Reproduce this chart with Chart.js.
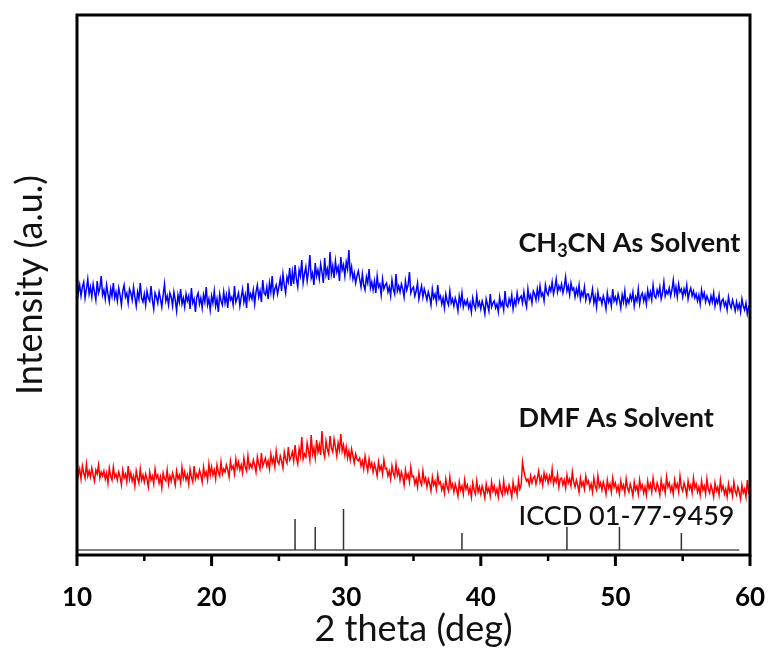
<!DOCTYPE html>
<html>
<head>
<meta charset="utf-8">
<script src="https://cdn.jsdelivr.net/npm/chart.js@4.4.1/dist/chart.umd.min.js"></script>
<style>
html,body{margin:0;padding:0;background:#fff;}
#wrap{width:772px;height:651px;position:relative;}
</style>
</head>
<body>
<div id="wrap"><canvas id="c" width="772" height="651"></canvas></div>
<script>
// 2-theta sampling grid (deg)
const thetaStart = 10;
const thetaStep = 0.1;

// CH3CN As Solvent (blue), one row per degree (10.0 ... 60.0)
const ch3cnIntensity = [
283,262,270,259,268,273,257,266,276,261,
268,258,271,263,255,274,262,267,279,260,
265,256,270,261,253,266,259,272,257,263,
254,267,260,250,264,270,258,262,252,266,
262,255,268,258,249,263,256,272,257,253,
261,250,264,257,254,269,255,246,262,258,
252,263,256,248,260,271,254,259,250,262,
258,249,263,255,244,260,253,266,251,257,
248,261,254,259,246,267,252,256,243,258,
262,251,257,247,260,253,268,250,256,245,
259,252,264,249,256,243,261,254,250,263,
252,260,247,264,255,258,250,269,253,257,
262,249,258,266,253,260,247,272,256,261,
256,265,251,263,270,258,264,253,275,262,
260,268,256,272,263,279,259,266,270,261,
268,276,264,281,270,262,278,273,287,269,
283,271,290,276,268,285,279,295,272,281,
288,274,284,300,277,282,270,292,279,285,
276,291,283,272,297,280,286,275,303,281,
289,277,294,283,288,274,298,285,290,279,
293,286,305,280,288,276,282,272,279,284,
276,268,281,270,265,278,272,286,267,273,
265,274,262,279,268,271,260,276,266,270,
272,263,268,259,275,266,261,281,264,269,
263,271,266,258,274,265,270,283,262,266,
268,259,264,272,256,263,269,258,266,261,
255,263,258,250,266,257,261,253,270,256,
259,251,257,247,261,254,250,264,252,256,
249,257,252,244,259,251,262,248,254,250,
255,247,252,243,257,250,246,260,249,253,
246,254,249,241,256,250,244,261,248,252,
254,247,251,243,258,249,253,245,264,250,
248,256,251,260,246,255,250,262,253,257,
259,252,263,254,248,266,256,260,252,264,
261,255,266,257,269,259,262,254,270,263,
260,268,264,273,261,267,276,263,269,265,
271,262,268,278,264,269,260,272,265,267,
258,266,260,270,256,263,259,268,255,261,
261,253,258,266,252,259,248,263,255,257,
251,259,254,246,262,253,257,249,266,254,
258,252,261,255,247,260,253,264,250,256,
252,260,255,263,249,258,254,266,251,259,
262,254,260,251,265,257,263,255,270,259,
257,265,260,268,256,262,273,259,264,261,
267,259,265,275,261,268,258,271,263,266,
258,266,261,270,256,263,267,259,264,257,
261,254,260,251,265,257,262,253,259,255,
251,259,253,262,249,256,252,260,247,254,
256,249,253,245,258,251,247,255,250,244,
253,246,251,243,256,249,245,252,241,248,
246
];

// DMF As Solvent (red)
const dmfIntensity = [
95,80,86,76,89,82,77,91,79,84,
78,87,80,74,85,81,90,77,83,79,
84,76,82,72,87,79,75,88,78,81,
75,83,78,70,85,77,81,73,89,76,
82,74,79,69,84,77,72,86,75,80,
73,81,76,68,83,75,79,71,86,77,
80,72,78,67,82,76,74,85,71,79,
74,82,77,70,84,76,80,72,88,77,
83,75,80,71,86,78,73,89,76,81,
77,85,80,73,88,79,83,75,91,80,
88,80,85,76,90,83,79,93,81,86,
83,90,85,78,94,86,89,81,96,87,
93,85,90,82,97,88,84,99,87,91,
87,95,90,83,98,91,86,102,89,93,
97,89,94,86,101,92,97,88,104,94,
91,99,94,87,103,96,92,108,95,98,
103,94,110,97,91,106,99,118,96,101,
98,112,104,95,120,101,107,97,115,103,
110,100,124,104,98,114,106,101,119,107,
103,116,108,99,112,105,121,104,110,100,
108,97,104,95,106,99,92,101,96,94,
97,89,94,86,99,91,84,96,88,92,
83,91,86,79,93,85,89,81,95,86,
87,79,84,76,89,82,78,91,80,85,
75,83,78,70,85,77,81,73,88,78,
79,71,76,68,82,74,70,84,73,77,
68,76,71,64,78,70,74,66,80,71,
73,65,70,62,76,68,64,78,67,71,
63,71,66,59,73,65,69,61,75,66,
70,62,67,58,72,65,61,74,63,68,
61,69,64,57,71,63,67,59,73,64,
69,61,66,58,72,64,60,74,62,67,
62,70,65,58,73,64,68,60,75,66,
70,93,84,78,74,76,70,79,72,77,
79,71,77,84,73,78,70,82,75,80,
72,79,74,86,71,77,73,81,68,76,
77,70,75,67,80,72,76,69,83,73,
68,75,70,63,77,69,73,66,79,71,
74,66,71,63,77,69,65,79,68,72,
65,73,68,61,75,67,71,63,77,68,
72,64,69,61,74,66,70,62,76,67,
63,71,66,59,73,65,69,61,75,66,
70,62,68,60,74,66,71,63,77,67,
64,72,67,60,75,66,70,62,78,68,
72,64,69,61,75,67,71,63,79,68,
64,72,67,60,74,66,70,62,77,67,
71,63,68,60,74,65,69,61,76,66,
62,70,65,58,72,64,68,60,75,65,
69,61,66,58,71,63,67,59,73,64,
60,68,63,56,70,62,66,58,75,62,
60
];

// ICCD 01-77-9459 reference lines
const iccdPositions = [26.2, 27.7, 29.8, 38.6, 46.4, 50.3, 54.9];
const iccdTops      = [36, 28, 46, 22, 28, 28, 22];
const iccdBase      = 5;
const iccdRange     = [10.05, 59.2];

// axis
const xTickLabels = [10, 20, 30, 40, 50, 60];
const xMinorTicks = [15, 25, 35, 45, 55];

const angles = ch3cnIntensity.map((_, i) => +(thetaStart + i * thetaStep).toFixed(1));
const toPts = arr => arr.map((v, i) => ({x: angles[i], y: v}));

const stickPts = [];
iccdPositions.forEach((p, i) => {
  stickPts.push({x: p, y: iccdBase}, {x: p, y: iccdTops[i]}, {x: p, y: null});
});
const basePts = [{x: iccdRange[0], y: iccdBase}, {x: iccdRange[1], y: iccdBase}];

const FONT = 'Lato, "Open Sans", sans-serif';

const framePlugin = {
  id: 'frame',
  afterDraw(chart) {
    const {ctx, chartArea: a, scales: {x, y}} = chart;
    ctx.save();
    ctx.strokeStyle = '#000';
    ctx.lineWidth = 3;
    ctx.strokeRect(a.left, a.top, a.right - a.left, a.bottom - a.top);
    ctx.lineCap = 'butt';
    xTickLabels.forEach(v => {
      const px = x.getPixelForValue(v);
      ctx.beginPath(); ctx.moveTo(px, a.bottom); ctx.lineTo(px, a.bottom + 11); ctx.stroke();
    });
    ctx.lineWidth = 2.5;
    xMinorTicks.forEach(v => {
      const px = x.getPixelForValue(v);
      ctx.beginPath(); ctx.moveTo(px, a.bottom); ctx.lineTo(px, a.bottom + 6); ctx.stroke();
    });
    // annotations
    ctx.fillStyle = '#111';
    ctx.textBaseline = 'middle';
    ctx.textAlign = 'left';
    const lx = x.getPixelForValue(42.8);
    ctx.font = 'bold 27px ' + FONT;
    let yy = y.getPixelForValue(312);
    let cx = lx;
    ctx.fillText('CH', cx, yy); cx += ctx.measureText('CH').width;
    ctx.font = 'bold 18px ' + FONT;
    ctx.fillText('3', cx, yy + 8); cx += ctx.measureText('3').width;
    ctx.font = 'bold 27px ' + FONT;
    ctx.fillText('CN As Solvent', cx, yy);
    ctx.fillText('DMF As Solvent', lx, y.getPixelForValue(137));
    ctx.font = '500 27px ' + FONT;
    ctx.fillText('ICCD 01-77-9459', lx, y.getPixelForValue(39));
    ctx.restore();
  }
};

new Chart(document.getElementById('c'), {
  type: 'line',
  data: {
    datasets: [
      {label: 'CH3CN As Solvent', data: toPts(ch3cnIntensity), borderColor: '#0000ff', borderWidth: 1.5, pointRadius: 0, tension: 0},
      {label: 'DMF As Solvent', data: toPts(dmfIntensity), borderColor: '#ff0000', borderWidth: 1.5, pointRadius: 0, tension: 0},
      {label: 'ICCD', data: stickPts, borderColor: '#333', borderWidth: 1.5, pointRadius: 0, spanGaps: false},
      {label: 'ICCD base', data: basePts, borderColor: '#555', borderWidth: 1.5, pointRadius: 0}
    ]
  },
  options: {
    responsive: false,
    animation: false,
    layout: {padding: {top: 15, right: 22, left: 0, bottom: 0}},
    plugins: {legend: {display: false}, tooltip: {enabled: false}},
    scales: {
      x: {
        type: 'linear', min: 10, max: 60,
        afterBuildTicks: s => { s.ticks = xTickLabels.map(v => ({value: v})); },
        grid: {display: false, drawTicks: true, tickLength: 27},
        border: {display: false},
        ticks: {color: '#000', font: {family: FONT, size: 26, weight: 'bold'}, padding: 0, maxRotation: 0},
        title: {display: true, text: '2 theta (deg)', color: '#111', font: {family: FONT, size: 36}, padding: {top: 0, bottom: 0}},
        afterFit: s => { s.height = 96; }
      },
      y: {
        min: 0, max: 540,
        grid: {display: false, drawTicks: false},
        border: {display: false},
        ticks: {display: false},
        title: {display: true, text: 'Intensity (a.u.)', color: '#111', font: {family: FONT, size: 36}, padding: {top: 9, bottom: 0}},
        afterFit: s => { s.width = 77; }
      }
    }
  },
  plugins: [framePlugin]
});
</script>
</body>
</html>
